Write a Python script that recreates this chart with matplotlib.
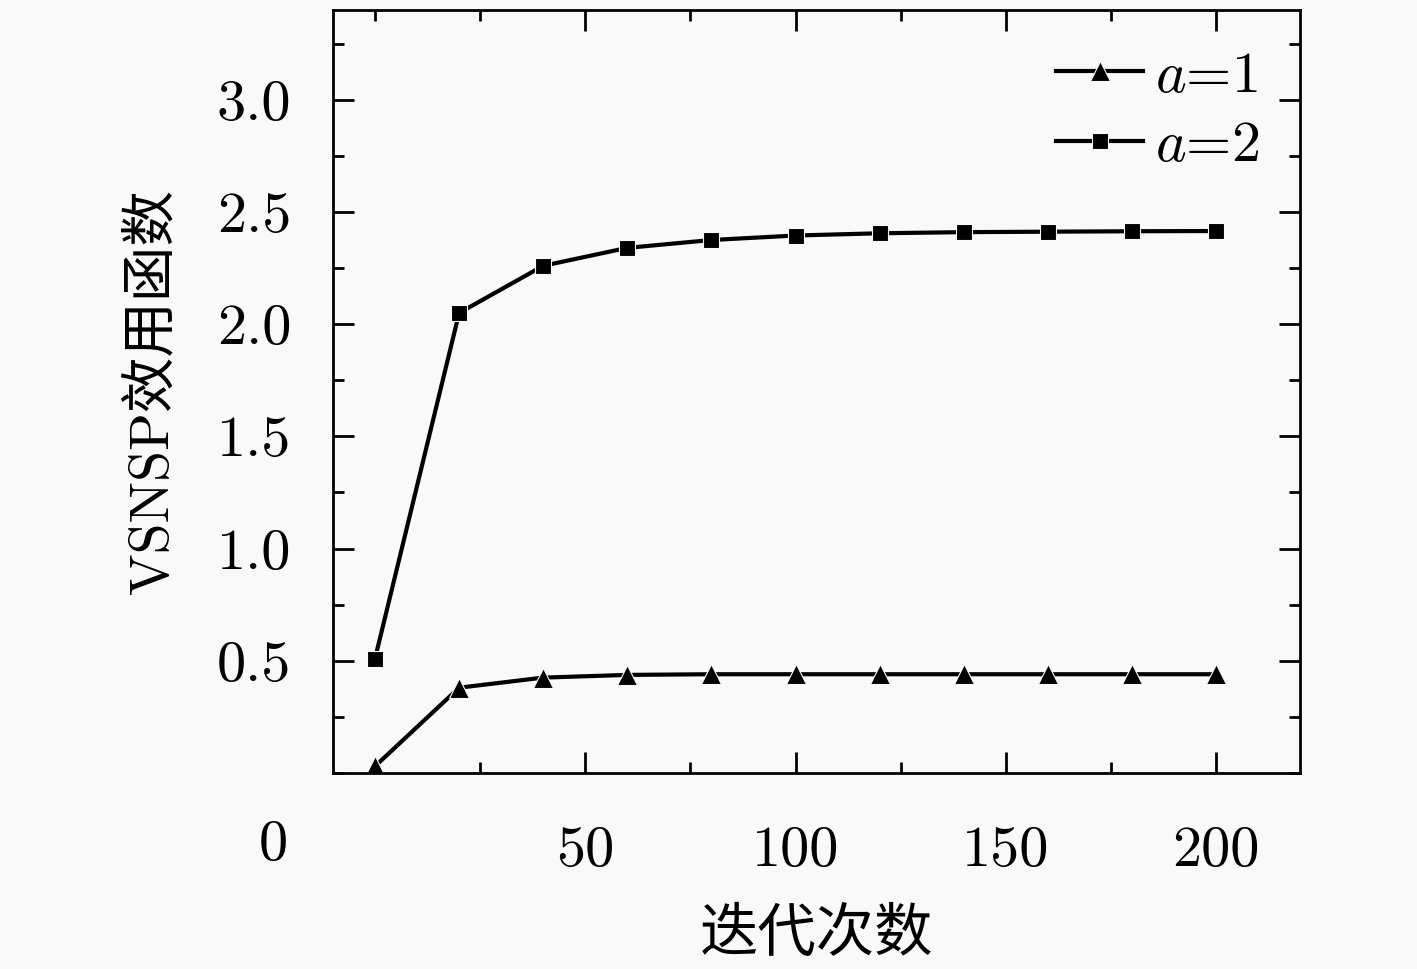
import numpy as np
import matplotlib
matplotlib.use("Agg")
import matplotlib.pyplot as plt
from matplotlib.ticker import MultipleLocator, FixedLocator

plt.rcParams['font.family'] = ['cmr10', 'Noto Sans CJK SC', 'DejaVu Sans']
plt.rcParams['mathtext.fontset'] = 'cm'
plt.rcParams['axes.formatter.use_mathtext'] = True

# iterations and utility values
iters = [0, 20, 40, 60, 80, 100, 120, 140, 160, 180, 200]
util_a1 = [0.03, 0.38, 0.425, 0.437, 0.44, 0.44, 0.44, 0.44, 0.44, 0.44, 0.44]
util_a2 = [0.51, 2.05, 2.26, 2.34, 2.375, 2.395, 2.405, 2.41, 2.412, 2.414, 2.415]
xticks = [50, 100, 150, 200]
yticks = [0.5, 1.0, 1.5, 2.0, 2.5, 3.0]

bg = '#f9f9f9'
fig = plt.figure(figsize=(14.17, 9.69), dpi=100, facecolor=bg)
ax = fig.add_axes([0.235, 0.2023, 0.6825, 0.7874], facecolor=bg)

ax.plot(iters, util_a1, '-^', color='black', lw=3, ms=15, mec=bg, mew=0.8,
        label=r'$a$=1')
ax.plot(iters, util_a2, '-s', color='black', lw=3, ms=11.5, mec=bg, mew=0.8,
        label=r'$a$=2')

ax.set_xlim(-10, 220)
ax.set_ylim(0, 3.4)
ax.xaxis.set_major_locator(FixedLocator(xticks))
ax.xaxis.set_minor_locator(MultipleLocator(25))
ax.yaxis.set_major_locator(FixedLocator(yticks))
ax.yaxis.set_minor_locator(MultipleLocator(0.25))
ax.set_xticklabels([str(v) for v in xticks])
ax.set_yticklabels([f'{v:.1f}' for v in yticks])

for s in ax.spines.values():
    s.set_linewidth(2)
ax.tick_params(which='both', direction='in', top=True, right=True, width=2,
               labelsize=42)
ax.tick_params(which='major', length=15)
ax.tick_params(which='minor', length=8)
ax.tick_params(axis='x', pad=38)
ax.tick_params(axis='y', pad=30)

ax.set_xlabel('迭代次数', fontsize=42, labelpad=22)
ax.set_ylabel('VSNSP效用函数', fontsize=40, labelpad=28)

# stray origin label sitting left of the axes
fig.text(273 / 1417, 1 - 845 / 969, '0', fontsize=42, ha='center', va='center')

ax.legend(loc='upper right', frameon=False, fontsize=42, handlelength=1.5,
          handletextpad=0.2, labelspacing=0.3, numpoints=1,
          borderaxespad=0.3)

fig.savefig('out.png', dpi=100, facecolor=bg)
